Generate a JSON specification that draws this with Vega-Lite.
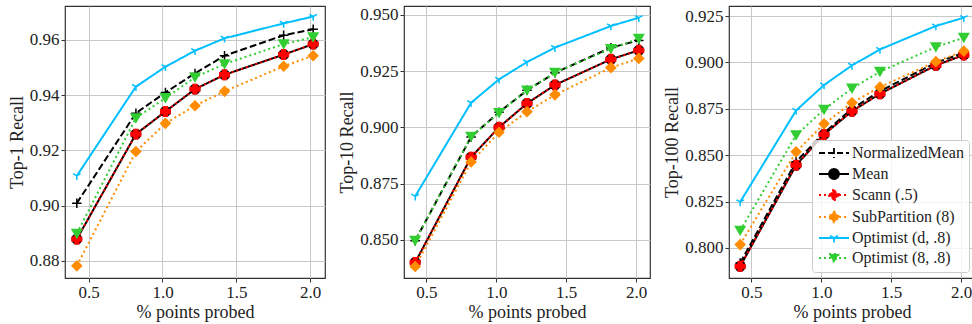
{
  "$schema": "https://vega.github.io/schema/vega-lite/v6.json",
  "padding": {"left": 7, "top": 5, "right": 4, "bottom": 4},
  "spacing": 12,
  "config": {
    "font": "Liberation Serif, DejaVu Serif, serif",
    "view": {"stroke": "#333333", "strokeWidth": 1.2},
    "axis": {
      "grid": true, "gridColor": "#c8c8c8", "gridWidth": 1, "domain": false,
      "tickColor": "#333333", "tickSize": 4, "labelPadding": 2,
      "labelFont": "Liberation Serif, DejaVu Serif, serif", "labelFontSize": 17, "labelColor": "#222222",
      "titleFont": "Liberation Serif, DejaVu Serif, serif", "titleFontSize": 18, "titleFontWeight": "normal", "titleColor": "#222222", "titlePadding": 3
    },
    "legend": {
      "labelFont": "Liberation Serif, DejaVu Serif, serif", "labelFontSize": 16, "labelColor": "#222222"
    }
  },
  "datasets": {
    "d": [
      {"k": 1, "m": "NormalizedMean", "p": 0.42, "r": 0.9009}, {"k": 1, "m": "NormalizedMean", "p": 0.82, "r": 0.9335}, {"k": 1, "m": "NormalizedMean", "p": 1.02, "r": 0.941}, {"k": 1, "m": "NormalizedMean", "p": 1.22, "r": 0.9479}, {"k": 1, "m": "NormalizedMean", "p": 1.42, "r": 0.9543}, {"k": 1, "m": "NormalizedMean", "p": 1.82, "r": 0.9617}, {"k": 1, "m": "NormalizedMean", "p": 2.02, "r": 0.9639},
      {"k": 1, "m": "Mean", "p": 0.42, "r": 0.8879}, {"k": 1, "m": "Mean", "p": 0.82, "r": 0.9259}, {"k": 1, "m": "Mean", "p": 1.02, "r": 0.9341}, {"k": 1, "m": "Mean", "p": 1.22, "r": 0.9422}, {"k": 1, "m": "Mean", "p": 1.42, "r": 0.9474}, {"k": 1, "m": "Mean", "p": 1.82, "r": 0.9547}, {"k": 1, "m": "Mean", "p": 2.02, "r": 0.9585},
      {"k": 1, "m": "Scann (.5)", "p": 0.42, "r": 0.8879}, {"k": 1, "m": "Scann (.5)", "p": 0.82, "r": 0.9259}, {"k": 1, "m": "Scann (.5)", "p": 1.02, "r": 0.9341}, {"k": 1, "m": "Scann (.5)", "p": 1.22, "r": 0.9422}, {"k": 1, "m": "Scann (.5)", "p": 1.42, "r": 0.9474}, {"k": 1, "m": "Scann (.5)", "p": 1.82, "r": 0.9547}, {"k": 1, "m": "Scann (.5)", "p": 2.02, "r": 0.9585},
      {"k": 1, "m": "SubPartition (8)", "p": 0.42, "r": 0.8782}, {"k": 1, "m": "SubPartition (8)", "p": 0.82, "r": 0.9196}, {"k": 1, "m": "SubPartition (8)", "p": 1.02, "r": 0.9298}, {"k": 1, "m": "SubPartition (8)", "p": 1.22, "r": 0.9362}, {"k": 1, "m": "SubPartition (8)", "p": 1.42, "r": 0.9414}, {"k": 1, "m": "SubPartition (8)", "p": 1.82, "r": 0.9505}, {"k": 1, "m": "SubPartition (8)", "p": 2.02, "r": 0.9543},
      {"k": 1, "m": "Optimist (d, .8)", "p": 0.42, "r": 0.9108}, {"k": 1, "m": "Optimist (d, .8)", "p": 0.82, "r": 0.9431}, {"k": 1, "m": "Optimist (d, .8)", "p": 1.02, "r": 0.9503}, {"k": 1, "m": "Optimist (d, .8)", "p": 1.22, "r": 0.9561}, {"k": 1, "m": "Optimist (d, .8)", "p": 1.42, "r": 0.9606}, {"k": 1, "m": "Optimist (d, .8)", "p": 1.82, "r": 0.966}, {"k": 1, "m": "Optimist (d, .8)", "p": 2.02, "r": 0.9685},
      {"k": 1, "m": "Optimist (8, .8)", "p": 0.42, "r": 0.8899}, {"k": 1, "m": "Optimist (8, .8)", "p": 0.82, "r": 0.9317}, {"k": 1, "m": "Optimist (8, .8)", "p": 1.02, "r": 0.939}, {"k": 1, "m": "Optimist (8, .8)", "p": 1.22, "r": 0.9465}, {"k": 1, "m": "Optimist (8, .8)", "p": 1.42, "r": 0.9513}, {"k": 1, "m": "Optimist (8, .8)", "p": 1.82, "r": 0.9585}, {"k": 1, "m": "Optimist (8, .8)", "p": 2.02, "r": 0.961},

      {"k": 10, "m": "NormalizedMean", "p": 0.42, "r": 0.8497}, {"k": 10, "m": "NormalizedMean", "p": 0.82, "r": 0.8958}, {"k": 10, "m": "NormalizedMean", "p": 1.02, "r": 0.9068}, {"k": 10, "m": "NormalizedMean", "p": 1.22, "r": 0.9165}, {"k": 10, "m": "NormalizedMean", "p": 1.42, "r": 0.9243}, {"k": 10, "m": "NormalizedMean", "p": 1.82, "r": 0.9355}, {"k": 10, "m": "NormalizedMean", "p": 2.02, "r": 0.9387},
      {"k": 10, "m": "Mean", "p": 0.42, "r": 0.840}, {"k": 10, "m": "Mean", "p": 0.82, "r": 0.8868}, {"k": 10, "m": "Mean", "p": 1.02, "r": 0.9001}, {"k": 10, "m": "Mean", "p": 1.22, "r": 0.9107}, {"k": 10, "m": "Mean", "p": 1.42, "r": 0.9189}, {"k": 10, "m": "Mean", "p": 1.82, "r": 0.9303}, {"k": 10, "m": "Mean", "p": 2.02, "r": 0.9343},
      {"k": 10, "m": "Scann (.5)", "p": 0.42, "r": 0.840}, {"k": 10, "m": "Scann (.5)", "p": 0.82, "r": 0.8868}, {"k": 10, "m": "Scann (.5)", "p": 1.02, "r": 0.9001}, {"k": 10, "m": "Scann (.5)", "p": 1.22, "r": 0.9107}, {"k": 10, "m": "Scann (.5)", "p": 1.42, "r": 0.9189}, {"k": 10, "m": "Scann (.5)", "p": 1.82, "r": 0.9303}, {"k": 10, "m": "Scann (.5)", "p": 2.02, "r": 0.9343},
      {"k": 10, "m": "SubPartition (8)", "p": 0.42, "r": 0.8382}, {"k": 10, "m": "SubPartition (8)", "p": 0.82, "r": 0.8847}, {"k": 10, "m": "SubPartition (8)", "p": 1.02, "r": 0.8979}, {"k": 10, "m": "SubPartition (8)", "p": 1.22, "r": 0.907}, {"k": 10, "m": "SubPartition (8)", "p": 1.42, "r": 0.9145}, {"k": 10, "m": "SubPartition (8)", "p": 1.82, "r": 0.9266}, {"k": 10, "m": "SubPartition (8)", "p": 2.02, "r": 0.9307},
      {"k": 10, "m": "Optimist (d, .8)", "p": 0.42, "r": 0.8694}, {"k": 10, "m": "Optimist (d, .8)", "p": 0.82, "r": 0.911}, {"k": 10, "m": "Optimist (d, .8)", "p": 1.02, "r": 0.9214}, {"k": 10, "m": "Optimist (d, .8)", "p": 1.22, "r": 0.9291}, {"k": 10, "m": "Optimist (d, .8)", "p": 1.42, "r": 0.9355}, {"k": 10, "m": "Optimist (d, .8)", "p": 1.82, "r": 0.9451}, {"k": 10, "m": "Optimist (d, .8)", "p": 2.02, "r": 0.9488},
      {"k": 10, "m": "Optimist (8, .8)", "p": 0.42, "r": 0.8497}, {"k": 10, "m": "Optimist (8, .8)", "p": 0.82, "r": 0.896}, {"k": 10, "m": "Optimist (8, .8)", "p": 1.02, "r": 0.9065}, {"k": 10, "m": "Optimist (8, .8)", "p": 1.22, "r": 0.9165}, {"k": 10, "m": "Optimist (8, .8)", "p": 1.42, "r": 0.9244}, {"k": 10, "m": "Optimist (8, .8)", "p": 1.82, "r": 0.935}, {"k": 10, "m": "Optimist (8, .8)", "p": 2.02, "r": 0.9395},

      {"k": 100, "m": "NormalizedMean", "p": 0.42, "r": 0.7919}, {"k": 100, "m": "NormalizedMean", "p": 0.82, "r": 0.8465}, {"k": 100, "m": "NormalizedMean", "p": 1.02, "r": 0.862}, {"k": 100, "m": "NormalizedMean", "p": 1.22, "r": 0.875}, {"k": 100, "m": "NormalizedMean", "p": 1.42, "r": 0.8845}, {"k": 100, "m": "NormalizedMean", "p": 1.82, "r": 0.8998}, {"k": 100, "m": "NormalizedMean", "p": 2.02, "r": 0.9052},
      {"k": 100, "m": "Mean", "p": 0.42, "r": 0.7901}, {"k": 100, "m": "Mean", "p": 0.82, "r": 0.8446}, {"k": 100, "m": "Mean", "p": 1.02, "r": 0.8612}, {"k": 100, "m": "Mean", "p": 1.22, "r": 0.8737}, {"k": 100, "m": "Mean", "p": 1.42, "r": 0.8831}, {"k": 100, "m": "Mean", "p": 1.82, "r": 0.8984}, {"k": 100, "m": "Mean", "p": 2.02, "r": 0.904},
      {"k": 100, "m": "Scann (.5)", "p": 0.42, "r": 0.7901}, {"k": 100, "m": "Scann (.5)", "p": 0.82, "r": 0.8446}, {"k": 100, "m": "Scann (.5)", "p": 1.02, "r": 0.8612}, {"k": 100, "m": "Scann (.5)", "p": 1.22, "r": 0.8737}, {"k": 100, "m": "Scann (.5)", "p": 1.42, "r": 0.8831}, {"k": 100, "m": "Scann (.5)", "p": 1.82, "r": 0.8984}, {"k": 100, "m": "Scann (.5)", "p": 2.02, "r": 0.904},
      {"k": 100, "m": "SubPartition (8)", "p": 0.42, "r": 0.8018}, {"k": 100, "m": "SubPartition (8)", "p": 0.82, "r": 0.8518}, {"k": 100, "m": "SubPartition (8)", "p": 1.02, "r": 0.8669}, {"k": 100, "m": "SubPartition (8)", "p": 1.22, "r": 0.8782}, {"k": 100, "m": "SubPartition (8)", "p": 1.42, "r": 0.8867}, {"k": 100, "m": "SubPartition (8)", "p": 1.82, "r": 0.9004}, {"k": 100, "m": "SubPartition (8)", "p": 2.02, "r": 0.9061},
      {"k": 100, "m": "Optimist (d, .8)", "p": 0.42, "r": 0.8248}, {"k": 100, "m": "Optimist (d, .8)", "p": 0.82, "r": 0.8741}, {"k": 100, "m": "Optimist (d, .8)", "p": 1.02, "r": 0.8878}, {"k": 100, "m": "Optimist (d, .8)", "p": 1.22, "r": 0.8984}, {"k": 100, "m": "Optimist (d, .8)", "p": 1.42, "r": 0.907}, {"k": 100, "m": "Optimist (d, .8)", "p": 1.82, "r": 0.9196}, {"k": 100, "m": "Optimist (d, .8)", "p": 2.02, "r": 0.9241},
      {"k": 100, "m": "Optimist (8, .8)", "p": 0.42, "r": 0.8094}, {"k": 100, "m": "Optimist (8, .8)", "p": 0.82, "r": 0.8608}, {"k": 100, "m": "Optimist (8, .8)", "p": 1.02, "r": 0.8746}, {"k": 100, "m": "Optimist (8, .8)", "p": 1.22, "r": 0.886}, {"k": 100, "m": "Optimist (8, .8)", "p": 1.42, "r": 0.895}, {"k": 100, "m": "Optimist (8, .8)", "p": 1.82, "r": 0.9083}, {"k": 100, "m": "Optimist (8, .8)", "p": 2.02, "r": 0.9133}
    ]
  },
  "data": {"name": "d"},
  "resolve": {
    "scale": {"y": "independent", "shape": "independent", "stroke": "independent", "fill": "independent", "strokeDash": "independent"},
    "legend": {"stroke": "independent", "fill": "independent", "shape": "independent", "strokeDash": "independent"}
  },
  "hconcat": [
    {
      "spacing": 12,
      "resolve": {
        "scale": {"y": "independent", "shape": "independent", "stroke": "independent", "fill": "independent", "strokeDash": "independent"},
        "legend": {"stroke": "independent", "fill": "independent", "shape": "independent", "strokeDash": "independent"}
      },
      "hconcat": [
        {
          "width": 260, "height": 272,
          "transform": [{"filter": "datum.k == 1"}],
          "encoding": {
            "x": {"field": "p", "type": "quantitative", "scale": {"domain": [0.34, 2.1], "nice": false, "zero": false}, "axis": {"values": [0.5, 1, 1.5, 2], "format": ".1f", "title": "% points probed"}},
            "y": {"field": "r", "type": "quantitative", "scale": {"domain": [0.8738, 0.9723], "nice": false, "zero": false}, "axis": {"values": [0.88, 0.9, 0.92, 0.94, 0.96], "format": ".2f", "title": "Top-1 Recall"}}
          },
          "layer": [
            {"mark": {"type": "line", "strokeWidth": 2},
             "encoding": {
               "stroke": {"field": "m", "type": "nominal", "scale": {"domain": ["NormalizedMean", "Mean", "Scann (.5)", "SubPartition (8)", "Optimist (d, .8)", "Optimist (8, .8)"], "range": ["#000000", "#000000", "#ff0000", "#ff8c00", "#00bfff", "#32cd32"]}, "legend": null},
               "strokeDash": {"field": "m", "type": "nominal", "scale": {"domain": ["NormalizedMean", "Mean", "Scann (.5)", "SubPartition (8)", "Optimist (d, .8)", "Optimist (8, .8)"], "range": [[7, 3], [1, 0], [2, 3], [2, 3], [1, 0], [2, 3]]}, "legend": null}
             }},
            {"mark": {"type": "point", "filled": true, "size": 90, "strokeWidth": 1.5, "opacity": 1},
             "encoding": {
               "stroke": {"field": "m", "type": "nominal", "legend": null},
               "fill": {"field": "m", "type": "nominal", "scale": {"domain": ["NormalizedMean", "Mean", "Scann (.5)", "SubPartition (8)", "Optimist (d, .8)", "Optimist (8, .8)"], "range": ["#000000", "#000000", "#ff0000", "#ff8c00", "#00bfff", "#32cd32"]}, "legend": null},
               "shape": {"field": "m", "type": "nominal", "scale": {"domain": ["NormalizedMean", "Mean", "Scann (.5)", "SubPartition (8)", "Optimist (d, .8)", "Optimist (8, .8)"], "range": ["M-1,0L1,0M0,-1L0,1", "circle", "cross", "diamond", "M0,0L0,0.9M0,0L-0.8,-0.45M0,0L0.8,-0.45", "triangle-down"]}, "legend": null}
             }}
          ]
        },
        {
          "width": 246, "height": 272,
          "transform": [{"filter": "datum.k == 10"}],
          "encoding": {
            "x": {"field": "p", "type": "quantitative", "scale": {"domain": [0.34, 2.1], "nice": false, "zero": false}, "axis": {"values": [0.5, 1, 1.5, 2], "format": ".1f", "title": "% points probed"}},
            "y": {"field": "r", "type": "quantitative", "scale": {"domain": [0.8331, 0.954], "nice": false, "zero": false}, "axis": {"values": [0.85, 0.875, 0.9, 0.925, 0.95], "format": ".3f", "title": "Top-10 Recall"}}
          },
          "layer": [
            {"mark": {"type": "line", "strokeWidth": 2},
             "encoding": {
               "stroke": {"field": "m", "type": "nominal", "scale": {"domain": ["NormalizedMean", "Mean", "Scann (.5)", "SubPartition (8)", "Optimist (d, .8)", "Optimist (8, .8)"], "range": ["#000000", "#000000", "#ff0000", "#ff8c00", "#00bfff", "#32cd32"]}, "legend": null},
               "strokeDash": {"field": "m", "type": "nominal", "scale": {"domain": ["NormalizedMean", "Mean", "Scann (.5)", "SubPartition (8)", "Optimist (d, .8)", "Optimist (8, .8)"], "range": [[7, 3], [1, 0], [2, 3], [2, 3], [1, 0], [2, 3]]}, "legend": null}
             }},
            {"mark": {"type": "point", "filled": true, "size": 90, "strokeWidth": 1.5, "opacity": 1},
             "encoding": {
               "stroke": {"field": "m", "type": "nominal", "legend": null},
               "fill": {"field": "m", "type": "nominal", "scale": {"domain": ["NormalizedMean", "Mean", "Scann (.5)", "SubPartition (8)", "Optimist (d, .8)", "Optimist (8, .8)"], "range": ["#000000", "#000000", "#ff0000", "#ff8c00", "#00bfff", "#32cd32"]}, "legend": null},
               "shape": {"field": "m", "type": "nominal", "scale": {"domain": ["NormalizedMean", "Mean", "Scann (.5)", "SubPartition (8)", "Optimist (d, .8)", "Optimist (8, .8)"], "range": ["M-1,0L1,0M0,-1L0,1", "circle", "cross", "diamond", "M0,0L0,0.9M0,0L-0.8,-0.45M0,0L0.8,-0.45", "triangle-down"]}, "legend": null}
             }}
          ]
        }
      ]
    },
    {
      "width": 246, "height": 272,
      "transform": [{"filter": "datum.k == 100"}],
      "resolve": {"scale": {"shape": "independent", "stroke": "independent", "fill": "independent", "strokeDash": "independent"}},
      "encoding": {
        "x": {"field": "p", "type": "quantitative", "scale": {"domain": [0.34, 2.1], "nice": false, "zero": false}, "axis": {"values": [0.5, 1, 1.5, 2], "format": ".1f", "title": "% points probed"}},
        "y": {"field": "r", "type": "quantitative", "scale": {"domain": [0.7838, 0.9304], "nice": false, "zero": false}, "axis": {"values": [0.8, 0.825, 0.85, 0.875, 0.9, 0.925], "format": ".3f", "title": "Top-100 Recall"}}
      },
      "layer": [
        {"mark": {"type": "line", "strokeWidth": 2},
         "encoding": {
           "stroke": {"field": "m", "type": "nominal", "scale": {"domain": ["NormalizedMean", "Mean", "Scann (.5)", "SubPartition (8)", "Optimist (d, .8)", "Optimist (8, .8)"], "range": ["#000000", "#000000", "#ff0000", "#ff8c00", "#00bfff", "#32cd32"]}, "legend": null},
           "strokeDash": {"field": "m", "type": "nominal", "scale": {"domain": ["NormalizedMean", "Mean", "Scann (.5)", "SubPartition (8)", "Optimist (d, .8)", "Optimist (8, .8)"], "range": [[7, 3], [1, 0], [2, 3], [2, 3], [1, 0], [2, 3]]}, "legend": null}
         }},
        {"mark": {"type": "point", "filled": true, "size": 90, "strokeWidth": 1.5, "opacity": 1},
         "encoding": {
           "stroke": {"field": "m", "type": "nominal", "scale": {"domain": ["NormalizedMean", "Mean", "Scann (.5)", "SubPartition (8)", "Optimist (d, .8)", "Optimist (8, .8)"], "range": ["#000000", "#000000", "#ff0000", "#ff8c00", "#00bfff", "#32cd32"]}, "legend": null},
           "fill": {"field": "m", "type": "nominal", "scale": {"domain": ["NormalizedMean", "Mean", "Scann (.5)", "SubPartition (8)", "Optimist (d, .8)", "Optimist (8, .8)"], "range": ["#000000", "#000000", "#ff0000", "#ff8c00", "#00bfff", "#32cd32"]}, "legend": null},
           "shape": {"field": "m", "type": "nominal", "scale": {"domain": ["NormalizedMean", "Mean", "Scann (.5)", "SubPartition (8)", "Optimist (d, .8)", "Optimist (8, .8)"], "range": ["M-1,0L1,0M0,-1L0,1", "circle", "cross", "diamond", "M0,0L0,0.9M0,0L-0.8,-0.45M0,0L0.8,-0.45", "triangle-down"]}, "legend": null}
         }},
        {"mark": {"type": "point", "filled": true, "opacity": 0, "strokeWidth": 1.8},
         "encoding": {
           "stroke": {"field": "m", "type": "nominal", "scale": {"domain": ["NormalizedMean", "Mean", "Scann (.5)", "SubPartition (8)", "Optimist (d, .8)", "Optimist (8, .8)"], "range": ["#000000", "#000000", "#ff0000", "#ff8c00", "#00bfff", "#32cd32"]},
             "legend": {"title": null, "orient": "bottom-right", "offset": 6, "padding": 5, "labelOffset": 19, "symbolSize": 100, "symbolStrokeWidth": 1.8, "symbolOpacity": 1, "rowPadding": 3, "fillColor": "rgba(255,255,255,0.8)", "strokeColor": "#cccccc", "cornerRadius": 3}},
           "fill": {"field": "m", "type": "nominal", "scale": {"domain": ["NormalizedMean", "Mean", "Scann (.5)", "SubPartition (8)", "Optimist (d, .8)", "Optimist (8, .8)"], "range": ["#000000", "#000000", "#ff0000", "#ff8c00", "#00bfff", "#32cd32"]},
             "legend": {"title": null, "orient": "bottom-right", "offset": 6, "padding": 5, "labelOffset": 19, "symbolSize": 100, "symbolStrokeWidth": 1.8, "symbolOpacity": 1, "rowPadding": 3, "fillColor": "rgba(255,255,255,0.8)", "strokeColor": "#cccccc", "cornerRadius": 3}},
           "strokeDash": {"field": "m", "type": "nominal", "scale": {"domain": ["NormalizedMean", "Mean", "Scann (.5)", "SubPartition (8)", "Optimist (d, .8)", "Optimist (8, .8)"], "range": [[6, 3], [1, 0], [2, 3], [2, 3], [1, 0], [2, 3]]},
             "legend": {"title": null, "orient": "bottom-right", "offset": 6, "padding": 5, "labelOffset": 19, "symbolSize": 100, "symbolStrokeWidth": 1.8, "symbolOpacity": 1, "rowPadding": 3, "fillColor": "rgba(255,255,255,0.8)", "strokeColor": "#cccccc", "cornerRadius": 3}},
           "shape": {"field": "m", "type": "nominal", "scale": {"domain": ["NormalizedMean", "Mean", "Scann (.5)", "SubPartition (8)", "Optimist (d, .8)", "Optimist (8, .8)"], "range": ["M-1.2,0L4.8,0M1.8,-1L1.8,1", "M-1.2,0L4.8,0M0.8,0A1,1 0 1,0 2.8,0A1,1 0 1,0 0.8,0Z", "M-1.2,0L4.8,0M1.45,-1L2.15,-1L2.15,-0.35L2.8,-0.35L2.8,0.35L2.15,0.35L2.15,1L1.45,1L1.45,0.35L0.8,0.35L0.8,-0.35L1.45,-0.35Z", "M-1.2,0L4.8,0M1.8,-1.1L2.9,0L1.8,1.1L0.7,0Z", "M-1.2,0L4.8,0M1.8,0L1.8,0.9M1.8,0L1,-0.45M1.8,0L2.6,-0.45", "M-1.2,0L4.8,0M0.8,-0.8L2.8,-0.8L1.8,0.9Z"]},
             "legend": {"title": null, "orient": "bottom-right", "offset": 6, "padding": 5, "labelOffset": 19, "symbolSize": 100, "symbolStrokeWidth": 1.8, "symbolOpacity": 1, "rowPadding": 3, "fillColor": "rgba(255,255,255,0.8)", "strokeColor": "#cccccc", "cornerRadius": 3}}
         }}
      ]
    }
  ]
}
